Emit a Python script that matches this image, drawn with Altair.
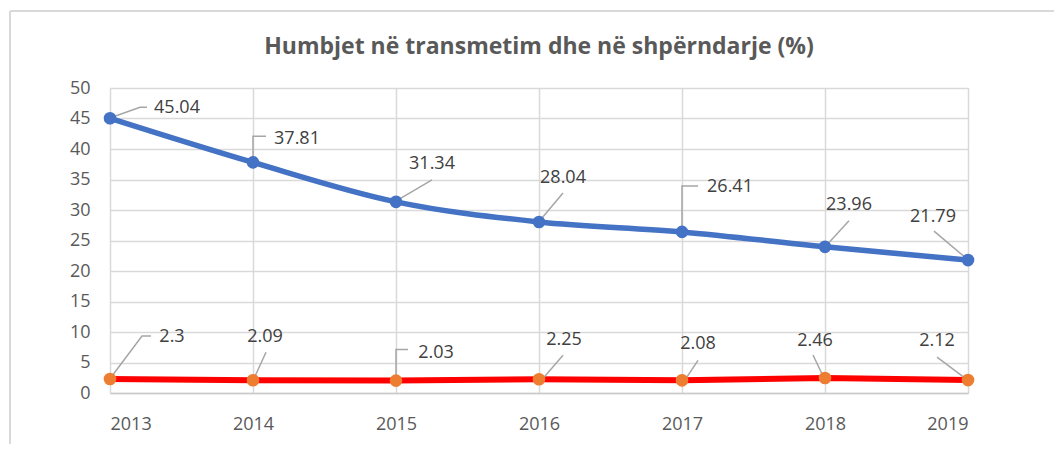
import altair as alt
import pandas as pd

# ---- data ----
years = [2013, 2014, 2015, 2016, 2017, 2018, 2019]
transmission = [45.04, 37.81, 31.34, 28.04, 26.41, 23.96, 21.79]   # blue series
distribution = [2.3, 2.09, 2.03, 2.25, 2.08, 2.46, 2.12]          # red series
y_ticks = [0, 5, 10, 15, 20, 25, 30, 35, 40, 45, 50]
title_text = "Humbjet në transmetim dhe në shpërndarje (%)"

# ---- label callout offsets (pixels, relative to the data point; y down) ----
blue_label_off = [(67, -10), (44, -23), (36, -38), (24, -44), (48, -45), (24, -42), (-35, -43)]
red_label_off = [(62, -42), (12, -43), (40, -28), (25, -39), (16, -36), (-10, -37), (-31, -39)]
blue_leaders = [
    [(2, -1), (30, -11), (37, -11)],
    [(0, -4), (0, -26), (13, -26)],
    [(2, -2), (36, -22)],
    [(3, -4), (24, -29)],
    [(0, -4), (0, -46), (16, -46)],
    [(2, -2), (24, -26)],
    [(-2, -2), (-34, -29)],
]
red_leaders = [
    [(2, -3), (32, -43), (41, -43)],
    [(2, -4), (13, -28)],
    [(0, -3), (0, -31), (12, -31)],
    [(5, -2), (24, -24)],
    [(4, -2), (16, -20)],
    [(-2, -2), (-12, -23)],
    [(-3, -2), (-31, -23)],
]

# ---- layout ----
W, H = 858, 305
PX_YEAR = W / (years[-1] - years[0])
PX_UNIT = H / 50.0
FONT = "Open Sans"
BLUE = "#4472C4"
RED = "#FF0000"
ORANGE = "#ED7D31"
GRID = "#d9d9d9"
TEXT = "#404040"

rows = []
for y, v in zip(years, transmission):
    rows.append({"year": y, "value": v, "series": "T"})
for y, v in zip(years, distribution):
    rows.append({"year": y, "value": v, "series": "D"})
df = pd.DataFrame(rows)

lab_rows, lead_rows = [], []
lid = 0
for series, vals, loffs, leads in [("T", transmission, blue_label_off, blue_leaders),
                                    ("D", distribution, red_label_off, red_leaders)]:
    for y, v, (dx, dy), pts in zip(years, vals, loffs, leads):
        lab_rows.append({"year": y + dx / PX_YEAR, "value": v - dy / PX_UNIT, "txt": f"{v:g}"})
        for k, (px, py) in enumerate(pts):
            lead_rows.append({"id": lid, "k": k, "year": y + px / PX_YEAR, "value": v - py / PX_UNIT})
        lid += 1
labels = pd.DataFrame(lab_rows)
leaders = pd.DataFrame(lead_rows)

xscale = alt.Scale(domain=[years[0], years[-1]], nice=False, zero=False)
yscale = alt.Scale(domain=[0, 50], nice=False)

x_axis = alt.Axis(values=years, format="d", title=None, grid=True, gridColor=GRID,
                  gridWidth=1.5, domainColor="#c9c9c9", domainWidth=1.5, ticks=False,
                  labelPadding=22, labelFontSize=18, labelColor="#595959", labelFont=FONT,
                  labelOverlap=False)
y_axis = alt.Axis(values=y_ticks, title=None, grid=True, gridColor=GRID, gridWidth=1.5,
                  domain=False, ticks=False, labelPadding=20, labelFontSize=18,
                  labelColor="#595959", labelFont=FONT, labelOverlap=False)


def X():
    return alt.X("year:Q", scale=xscale, axis=x_axis)


def Y():
    return alt.Y("value:Q", scale=yscale, axis=y_axis)


blue_line = alt.Chart(df).transform_filter(alt.datum.series == "T").mark_line(
    color=BLUE, strokeWidth=5.5, interpolate="monotone").encode(x=X(), y=Y())
red_line = alt.Chart(df).transform_filter(alt.datum.series == "D").mark_line(
    color=RED, strokeWidth=6).encode(x=X(), y=Y())

lead = alt.Chart(leaders).mark_line(color="#a6a6a6", strokeWidth=1.5).encode(
    x=X(), y=Y(), detail="id:N", order="k:Q")

pts = alt.Chart(df).mark_point(filled=True, opacity=1, size=160, strokeWidth=0).encode(
    x=X(), y=Y(),
    color=alt.Color("series:N", scale=alt.Scale(domain=["T", "D"], range=[BLUE, ORANGE]), legend=None))

txt = alt.Chart(labels).mark_text(font=FONT, fontSize=18, color=TEXT, align="center",
                                   baseline="middle").encode(x=X(), y=Y(), text="txt:N")

top_border = alt.Chart(df).mark_rule(color=GRID, strokeWidth=1.5).encode(
    x=alt.value(-100), x2=alt.value(W + 100), y=alt.value(-77))
left_border = alt.Chart(df).mark_rule(color=GRID, strokeWidth=1.5).encode(
    x=alt.value(-100), y=alt.value(-77), y2=alt.value(H + 80))

chart = alt.layer(blue_line, red_line, lead, pts, txt, top_border, left_border).properties(
    width=W, height=H,
    title=alt.TitleParams(title_text, font=FONT, fontSize=23, fontWeight="bold", color="#595959",
                          anchor="middle", baseline="alphabetic", offset=-67),
    padding={"left": 102, "top": 80, "right": 86, "bottom": 51},
    autosize=alt.AutoSizeParams(type="none"),
).configure_view(stroke=None).configure(background="white")

chart.save("out.html", embed_options={"renderer": "svg", "actions": False})
